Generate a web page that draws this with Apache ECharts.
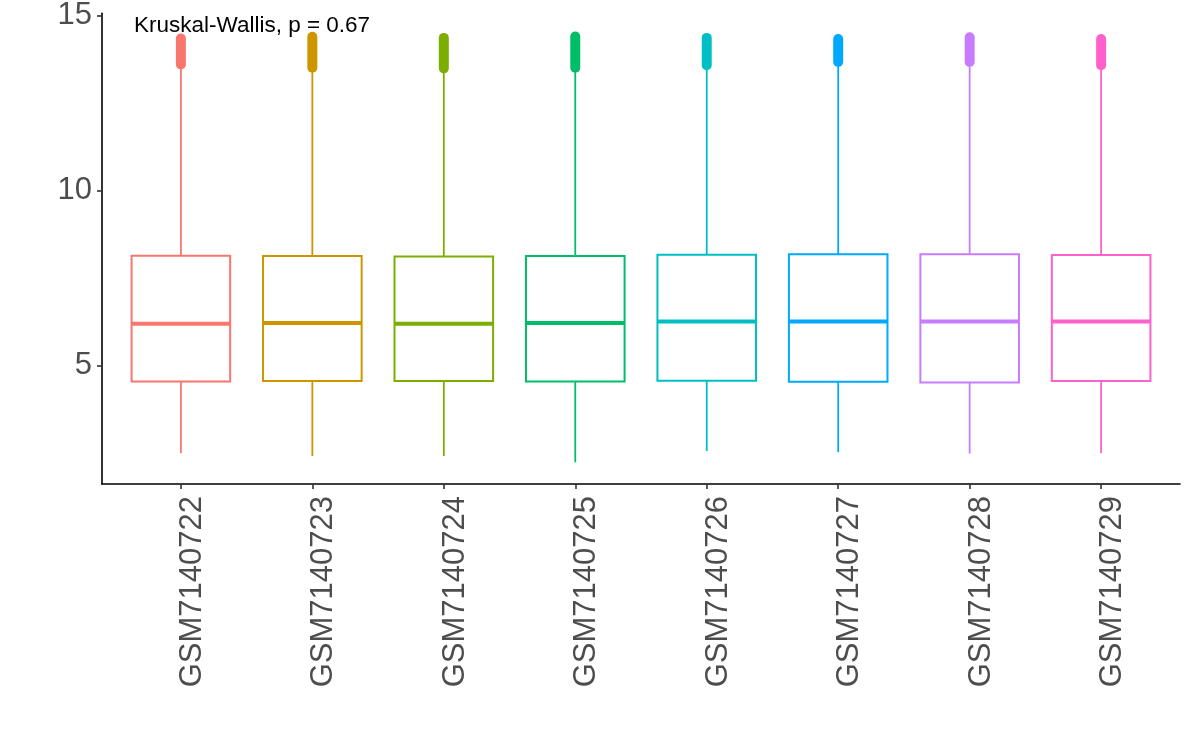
<!DOCTYPE html>
<html>
<head>
<meta charset="utf-8">
<script src="https://cdn.jsdelivr.net/npm/echarts@6/dist/echarts.min.js"></script>
<style>
  html, body { margin: 0; padding: 0; background: #fff; }
  #chart { width: 1192px; height: 745px; }
</style>
</head>
<body>
<div id="chart"></div>
<script>
// sample names, one box per sample
const samples = ['GSM7140722', 'GSM7140723', 'GSM7140724', 'GSM7140725',
                 'GSM7140726', 'GSM7140727', 'GSM7140728', 'GSM7140729'];

// box statistics
const lowerWhisker = [2.50, 2.42, 2.42, 2.24, 2.56, 2.53, 2.49, 2.50];
const q1           = [4.55, 4.56, 4.56, 4.55, 4.57, 4.54, 4.52, 4.56];
const median       = [6.20, 6.22, 6.20, 6.22, 6.26, 6.26, 6.26, 6.26];
const q3           = [8.14, 8.13, 8.12, 8.13, 8.17, 8.18, 8.18, 8.16];
const upperWhisker = [13.50, 13.45, 13.45, 13.45, 13.50, 13.55, 13.55, 13.50];

// outliers form a dense band, keep its lowest and highest point
const outlierLow  = [13.60, 13.51, 13.49, 13.51, 13.58, 13.67, 13.67, 13.58];
const outlierHigh = [14.34, 14.39, 14.36, 14.40, 14.36, 14.33, 14.38, 14.33];

const yTicks = [5, 10, 15];
const pLabel = 'Kruskal-Wallis, p = 0.67';

const colors = ['#F8766D', '#CD9600', '#7CAE00', '#00BE67',
                '#00BFC4', '#00A9FF', '#C77CFF', '#FF61CC'];

const FONT = '"Liberation Sans", Arial, sans-serif';
const positions = samples.map((_, i) => i + 1);

const boxData = samples.map((name, i) => [
    i + 1, lowerWhisker[i], q1[i], median[i], q3[i], upperWhisker[i], outlierLow[i], outlierHigh[i]
]);

function renderBox(params, api) {
    const x = api.value(0);
    const color = colors[params.dataIndex];
    const half = 0.375;
    const pLow = api.coord([x, api.value(1)]);
    const pQ1 = api.coord([x, api.value(2)]);
    const pMed = api.coord([x, api.value(3)]);
    const pQ3 = api.coord([x, api.value(4)]);
    const pUp = api.coord([x, api.value(5)]);
    const pOutLo = api.coord([x, api.value(6)]);
    const pOutHi = api.coord([x, api.value(7)]);
    const left = api.coord([x - half, 0])[0];
    const right = api.coord([x + half, 0])[0];

    return {
        type: 'group',
        children: [
            { type: 'line', shape: { x1: pLow[0], y1: pLow[1], x2: pQ1[0], y2: pQ1[1] },
              style: { stroke: color, lineWidth: 1.8 } },
            { type: 'line', shape: { x1: pQ3[0], y1: pQ3[1], x2: pUp[0], y2: pUp[1] },
              style: { stroke: color, lineWidth: 1.8 } },
            { type: 'rect', shape: { x: left, y: pQ3[1], width: right - left, height: pQ1[1] - pQ3[1] },
              style: { fill: '#fff', stroke: color, lineWidth: 2 } },
            { type: 'line', shape: { x1: left, y1: pMed[1], x2: right, y2: pMed[1] },
              style: { stroke: color, lineWidth: 4 } },
            { type: 'line', shape: { x1: pOutLo[0], y1: pOutLo[1], x2: pOutHi[0], y2: pOutHi[1] },
              style: { stroke: color, lineWidth: 10, lineCap: 'round' } }
        ]
    };
}

const chart = echarts.init(document.getElementById('chart'));

const option = {
    backgroundColor: '#fff',
    animation: false,
    title: {
        text: pLabel,
        left: 134,
        top: 14,
        padding: 0,
        textStyle: { fontFamily: FONT, fontSize: 22.5, fontWeight: 'normal', color: '#000' }
    },
    grid: { left: 102, right: 12, top: 10, bottom: 261, containLabel: false },
    xAxis: {
        type: 'value',
        min: 0.4,
        max: 8.6,
        splitLine: { show: false },
        axisLine: { show: true, lineStyle: { color: '#000', width: 1.6 } },
        axisTick: { show: true, customValues: positions, length: 5,
                    lineStyle: { color: '#333', width: 1.6 } },
        axisLabel: {
            customValues: positions,
            rotate: 90,
            margin: 12,
            fontFamily: FONT,
            fontSize: 31,
            color: '#4D4D4D',
            verticalAlign: 'top',
            lineHeight: 23,
            formatter: (v) => samples[Math.round(v) - 1] || ''
        }
    },
    yAxis: {
        type: 'value',
        min: 1.62,
        max: 15.065,
        splitLine: { show: false },
        axisLine: { show: true, lineStyle: { color: '#000', width: 1.6 } },
        axisTick: { show: true, customValues: yTicks, length: 5,
                    lineStyle: { color: '#333', width: 1.6 } },
        axisLabel: {
            customValues: yTicks,
            margin: 10,
            fontFamily: FONT,
            fontSize: 31,
            color: '#4D4D4D'
        }
    },
    series: [{
        type: 'custom',
        renderItem: renderBox,
        encode: { x: 0, y: [1, 2, 3, 4, 5, 6, 7] },
        data: boxData,
        clip: false
    }]
};

chart.setOption(option);
window.addEventListener('resize', () => chart.resize());
</script>
</body>
</html>
